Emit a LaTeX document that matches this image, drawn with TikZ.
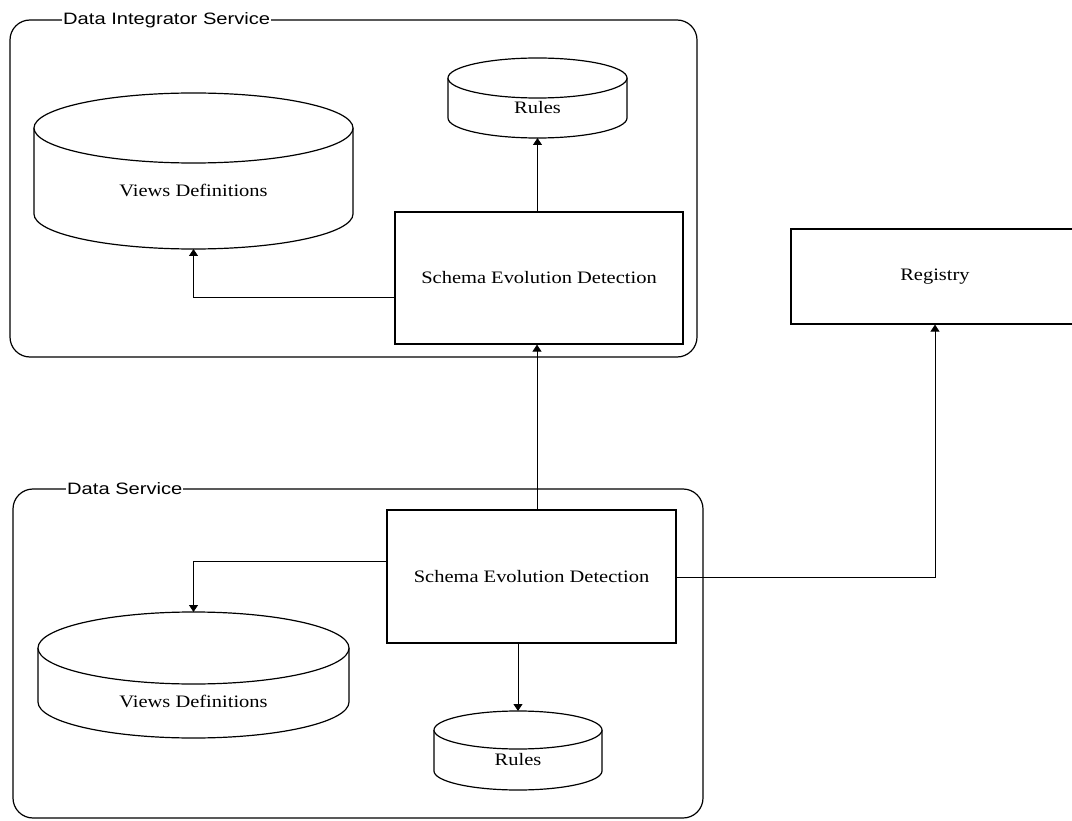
\documentclass[tikz,border=0pt]{standalone}
\usepackage{fontspec}
\setmainfont{Liberation Serif}[FakeStretch=1.17]
\newfontfamily\lsans{Liberation Sans}[FakeStretch=1.22]
\usetikzlibrary{arrows.meta}
\tikzset{
  shapeline/.style={draw=black, line width=1.2pt, fill=white},
  container/.style={draw=black, line width=1.2pt, rounded corners=20pt},
  boxnode/.style={draw=black, line width=1.2pt, fill=white, inner sep=0pt,
    font=\fontsize{17.5}{20}\selectfont},
  txt/.style={inner sep=0pt, font=\fontsize{17.5}{20}\selectfont},
  grouplabel/.style={fill=white, inner xsep=1pt, inner ysep=1pt, anchor=west,
    font=\lsans\fontsize{16.5}{19}\selectfont},
  conn/.style={draw=black, line width=0.8pt, -{Triangle[width=9pt,length=7pt]}}
}
\newcommand{\dbcyl}[6]{%
  \draw[shapeline] ({#2-#5},#3) -- ({#2-#5},#4)
     arc[start angle=180,end angle=360,x radius=#5pt,y radius=#6pt] -- ({#2+#5},#3);
  \draw[shapeline] (#2,#3) ellipse[x radius=#5pt, y radius=#6pt];
  \coordinate (#1-top) at (#2,{#3-#6});
  \coordinate (#1-bot) at (#2,{#4+#6});
}
\begin{document}
\begin{tikzpicture}[x=1pt,y=-1pt]
\useasboundingbox (0,0) rectangle (1072,821);

% containers
\draw[container] (10,20) rectangle (697,357);
\node[grouplabel] (lblDI) at (62,20) {Data Integrator Service};
\draw[container] (13,489) rectangle (703,818);
\node[grouplabel] (lblDS) at (66,489) {Data Service};

% top group
\dbcyl{tviews}{193.5}{128}{214}{159.5}{35}
\node[txt] (tviewsT) at (193.5,190) {Views Definitions};
\dbcyl{trules}{537.5}{78}{118}{89.5}{20}
\node[txt] (trulesT) at (537.5,108) {Rules};
\node[boxnode, minimum width=288pt, minimum height=132pt] (tsed) at (539,278) {Schema Evolution Detection};

% registry
\node[boxnode, minimum width=288pt, minimum height=95pt] (reg) at (935,276.5) {Registry};

% bottom group
\node[boxnode, minimum width=289pt, minimum height=133pt] (bsed) at (531.5,576.5) {Schema Evolution Detection};
\dbcyl{bviews}{193.5}{648}{702}{155.5}{36}
\node[txt] (bviewsT) at (193.5,701) {Views Definitions};
\dbcyl{brules}{518}{730}{771}{84}{19}
\node[txt] (brulesT) at (518,760) {Rules};

% connectors
\draw[conn] (tsed.north -| trules-bot) -- (trules-bot);
\draw[conn] (tsed.west |- 0,297) -- (tviews-bot |- 0,297) -- (tviews-bot);
\draw[conn] (bsed.north -| 537,0) -- (tsed.south -| 537,0);
\draw[conn] (bsed.west |- 0,561) -- (bviews-top |- 0,561) -- (bviews-top);
\draw[conn] (bsed.south -| brules-top) -- (brules-top);
\draw[conn] (bsed.east |- 0,577) -- (reg.south |- 0,577) -- (reg.south);
\end{tikzpicture}
\end{document}
